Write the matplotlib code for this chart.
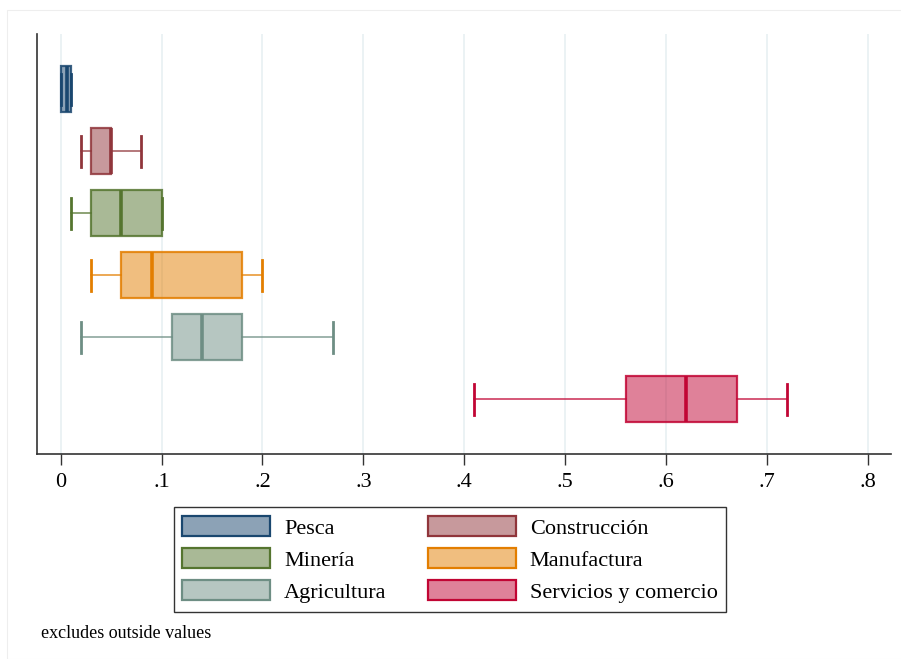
import matplotlib
matplotlib.use("Agg")
import matplotlib.pyplot as plt
from matplotlib.colors import to_rgba
from matplotlib.patches import Patch, Rectangle

plt.rcParams['font.family'] = ['Liberation Serif', 'DejaVu Serif']

categories = ["Pesca", "Construcción", "Minería", "Manufactura", "Agricultura", "Servicios y comercio"]
whislo = [0.0, 0.02, 0.01, 0.03, 0.02, 0.41]
q1     = [0.0, 0.03, 0.03, 0.06, 0.11, 0.56]
med    = [0.006, 0.05, 0.06, 0.09, 0.14, 0.62]
q3     = [0.01, 0.05, 0.10, 0.18, 0.18, 0.67]
whishi = [0.01, 0.08, 0.10, 0.20, 0.27, 0.72]
colors = ["#1a476f", "#90353b", "#55752f", "#e37e00", "#6e8e84", "#c10534"]
xticks = [0, 0.1, 0.2, 0.3, 0.4, 0.5, 0.6, 0.7, 0.8]
xticklabels = ["0", ".1", ".2", ".3", ".4", ".5", ".6", ".7", ".8"]
note = "excludes outside values"

fig = plt.figure(figsize=(9.01, 6.59), dpi=100)
fig.patches.append(Rectangle((7/901, 0), 1, 1 - 10/659, transform=fig.transFigure,
                             fill=False, edgecolor="#eeeeee", linewidth=0.8))
ax = fig.add_axes([37/901, 1 - 454/659, (891 - 37)/901, (454 - 34)/659])

positions = list(range(1, len(categories) + 1))
for i, cat in enumerate(categories):
    st = dict(label=cat, whislo=whislo[i], q1=q1[i], med=med[i], q3=q3[i],
              whishi=whishi[i], fliers=[])
    c = colors[i]
    ax.bxp([st], positions=[positions[i]], widths=0.74, capwidths=0.5,
           orientation='horizontal', patch_artist=True, showfliers=False,
           boxprops=dict(facecolor=to_rgba(c, 0.5), edgecolor=to_rgba(c, 0.85), linewidth=1.6),
           medianprops=dict(color=c, linewidth=2.6),
           whiskerprops=dict(color=to_rgba(c, 0.85), linewidth=1.1),
           capprops=dict(color=c, linewidth=2.0),
           manage_ticks=False)

ax.set_xlim(-0.0235, 0.823)
ax.set_ylim(6.88, 0.113)
ax.set_yticks([])
ax.set_xticks(xticks)
ax.set_xticklabels(xticklabels, fontsize=16)
ax.tick_params(axis='x', length=8, width=1, color='#333333', pad=6)
ax.grid(axis='x', color='#e8f0f2', linewidth=1.2)
ax.set_axisbelow(True)
for s in ['top', 'right']:
    ax.spines[s].set_visible(False)
for s in ['left', 'bottom']:
    ax.spines[s].set_color('#333333')
    ax.spines[s].set_linewidth(1.2)

handles = [Patch(facecolor=to_rgba(colors[i], 0.5), edgecolor=colors[i],
                 linewidth=1.6, label=categories[i]) for i in range(len(categories))]
order = [0, 2, 4, 1, 3, 5]
leg = fig.legend([handles[i] for i in order], [categories[i] for i in order],
                 ncol=2, loc='center', bbox_to_anchor=(450/901, 1 - 559.5/659),
                 fontsize=16, frameon=True, fancybox=False, edgecolor='black',
                 handlelength=3.95, handleheight=1.0, handletextpad=0.63,
                 columnspacing=1.85, labelspacing=0.42, borderpad=0.4,
                 borderaxespad=0)
leg.get_frame().set_linewidth(1.0)

fig.text(41/901, 1 - 634/659, note, fontsize=13, va='center', ha='left')

fig.savefig("out.png", dpi=100, facecolor='white')
